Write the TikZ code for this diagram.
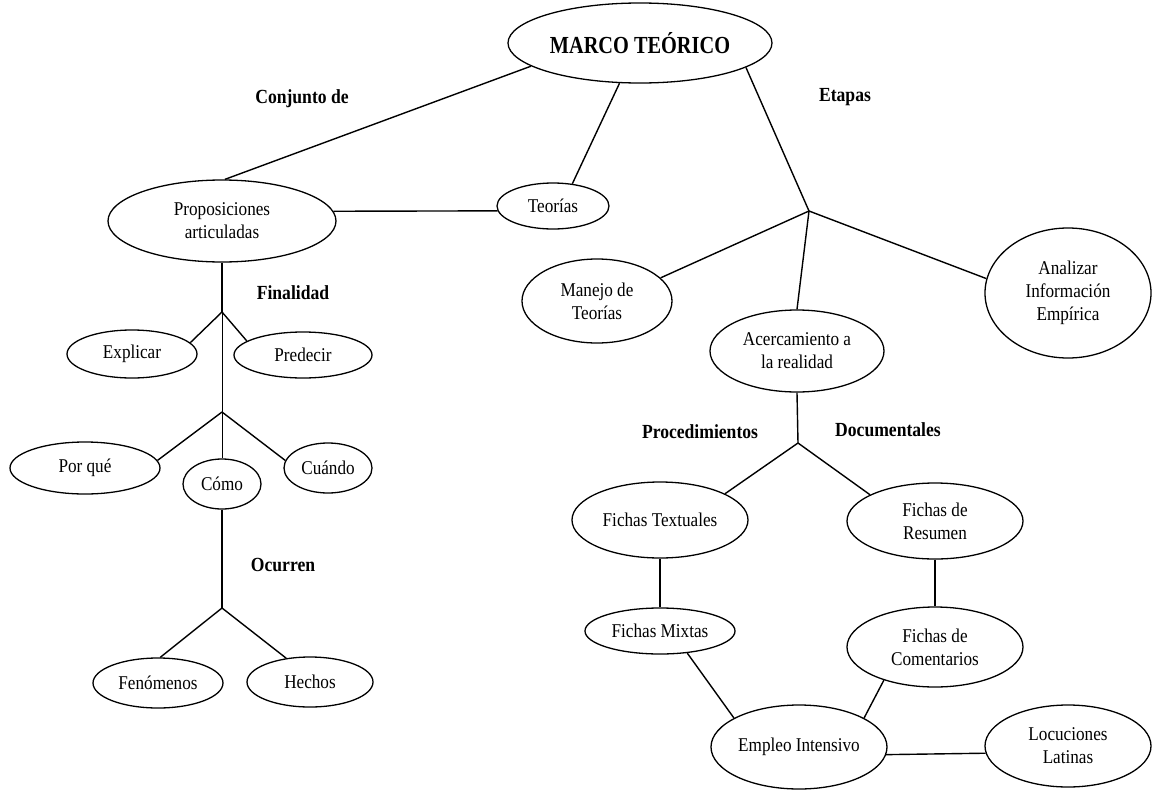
\documentclass[tikz,border=0pt]{standalone}
\usepackage{fontspec}
\setmainfont{Liberation Serif}[FakeStretch=0.88]
\newfontfamily\headfont{Liberation Serif}[FakeStretch=0.83]
\usetikzlibrary{shapes.geometric}

\begin{document}
\begin{tikzpicture}[x=1pt,y=-1pt,
  bub/.style={draw, ellipse, line width=1.3pt, inner sep=0pt, align=center,
    font=\fontsize{19.5}{23}\selectfont},
  lbl/.style={font=\bfseries\fontsize{20}{23}\selectfont},
  link/.style={line width=1.4pt},
  thinlink/.style={line width=0.6pt}]
\useasboundingbox (0,0) rectangle (1152,790);

% ---- main concept ----
\node[bub, minimum width=264pt, minimum height=80pt,
      font=\headfont\bfseries\fontsize{24.5}{28}\selectfont] (marco) at (640,43) {MARCO TEÓRICO};

% ---- left branch ----
\node[bub, minimum width=228pt, minimum height=82pt] (prop) at (222,221) {Proposiciones\\articuladas};
\node[bub, minimum width=112pt, minimum height=46pt] (teorias) at (553,206) {Teorías};

\node[bub, minimum width=130pt, minimum height=48pt] (explicar) at (132,354) {Explicar};
\node[bub, minimum width=138pt, minimum height=46pt] (predecir) at (303,355) {Predecir};
\node[bub, minimum width=150pt, minimum height=52pt] (porque) at (85,468) {Por qué};
\node[bub, minimum width=78pt, minimum height=50pt] (como) at (222,484) {Cómo};
\node[bub, minimum width=88pt, minimum height=50pt] (cuando) at (328,468) {Cuándo};
\node[bub, minimum width=130pt, minimum height=50pt] (fen) at (158,683) {Fenómenos};
\node[bub, minimum width=126pt, minimum height=50pt] (hechos) at (310,682) {Hechos};

% ---- right branch ----
\node[bub, minimum width=150pt, minimum height=84pt] (manejo) at (597,301) {Manejo de\\Teorías};
\node[bub, minimum width=174pt, minimum height=82pt] (acerca) at (797,351) {Acercamiento a\\la realidad};
\node[bub, minimum width=166pt, minimum height=130pt] (analizar) at (1068,293) {Analizar\\Información\\Empírica};

\node[bub, minimum width=176pt, minimum height=76pt] (ftext) at (660,520) {Fichas Textuales};
\node[bub, minimum width=176pt, minimum height=76pt] (fres) at (935,521) {Fichas de\\Resumen};
\node[bub, minimum width=150pt, minimum height=46pt] (fmix) at (660,631) {Fichas Mixtas};
\node[bub, minimum width=176pt, minimum height=80pt] (fcom) at (935,647) {Fichas de\\Comentarios};
\node[bub, minimum width=176pt, minimum height=84pt] (empleo) at (799,747) {Empleo Intensivo};
\node[bub, minimum width=166pt, minimum height=82pt] (locu) at (1068,746) {Locuciones\\Latinas};

% ---- branch points ----
\coordinate (j1) at (809,211);
\coordinate (j2) at (798,443);
\coordinate (j3) at (222,312);
\coordinate (j4) at (222,412);
\coordinate (j5) at (222,608);

% ---- link labels ----
\node[lbl] (lconj) at (302,99) {Conjunto de};
\node[lbl] (letap) at (845,97) {Etapas};
\node[lbl] (lfin) at (293,293) {Finalidad};
\node[lbl] (locur) at (283,565) {Ocurren};
\node[lbl] (lproc) at (700,432) {Procedimientos};
\node[lbl] (ldoc) at (888,430) {Documentales};

% ---- connectors ----
\draw[link] (marco.192) -- (prop.86);
\draw[link] (marco.243) -- (teorias.49);
\draw[link] (prop.5.2) -- (teorias.185.2);
\draw[link] (marco.347.4) -- (j1);
\draw[link] (j1) -- (manejo.20);
\draw[link] (j1) -- (acerca.north);
\draw[link] (j1) -- (analizar.170);

\draw[link] (acerca.south) -- (j2);
\draw[link] (j2) -- (ftext.22);
\draw[link] (j2) -- (fres.158);
\draw[link] (ftext.south) -- (fmix.north);
\draw[link] (fres.south) -- (fcom.north);
\draw[link] (fmix.321.5) -- (empleo.156);
\draw[link] (fcom.213) -- (empleo.24);
\draw[link] (empleo.355.4) -- (locu.185.6);

\draw[link] (prop.south) -- (j3);
\draw[link] (j3) -- (explicar.11);
\draw[link] (j3) -- (predecir.166);
\draw[thinlink] (j3) -- (j4);
\draw[thinlink] (j4) -- (como.north);
\draw[link] (j4) -- (porque.6);
\draw[link] (j4) -- (cuando.170);
\draw[link] (como.south) -- (j5);
\draw[link] (j5) -- (fen.85);
\draw[link] (j5) -- (hechos.135);
\end{tikzpicture}
\end{document}
